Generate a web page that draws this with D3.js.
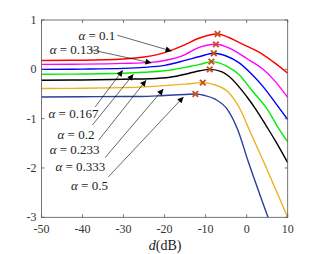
<!DOCTYPE html>
<html><head><meta charset="utf-8">
<script src="https://cdn.jsdelivr.net/npm/d3@7"></script>
<style>body{margin:0;background:#fff}</style>
</head><body>
<svg id="c" width="319" height="254"></svg>
<script>
const alphas = ["0.1","0.133","0.167","0.2","0.233","0.333","0.5"];
const colors = ["#ff0000","#ff00ff","#0000ff","#00ee00","#000000","#EDB120","#2a3fa0"];
const xTicks = [-50,-40,-30,-20,-10,0,10];
const yTicks = [1,0,-1,-2,-3];
const s01  = [[-50,0.18],[-40,0.185],[-30,0.21],[-25,0.25],[-20,0.34],[-15,0.5],[-12,0.62],[-7.1,0.716],[-4.5,0.65],[-2,0.55],[0,0.47],[3.6,0.32],[7,0.12],[10,-0.08]];
const s0133= [[-50,0.10],[-40,0.105],[-30,0.12],[-23.6,0.14],[-20,0.18],[-15,0.3],[-12,0.43],[-7.5,0.507],[-4.5,0.44],[-2,0.33],[0,0.22],[4,0.0],[7,-0.25],[10,-0.57]];
const s0167= [[-50,0.0],[-40,0.005],[-30,0.02],[-25,0.04],[-20,0.08],[-15,0.18],[-11.4,0.26],[-8,0.325],[-5,0.27],[-2,0.14],[1,-0.08],[4,-0.35],[7,-0.68],[10,-1.02]];
const s02  = [[-50,-0.1],[-40,-0.095],[-30,-0.08],[-25,-0.06],[-20,-0.03],[-15,0.04],[-11.4,0.1],[-8.6,0.156],[-5,0.07],[-1.7,-0.12],[1,-0.4],[5.2,-0.83],[7.6,-1.17],[10,-1.47]];
const s0233= [[-50,-0.22],[-40,-0.215],[-30,-0.2],[-23.6,-0.19],[-18.7,-0.16],[-14,-0.08],[-11.4,-0.03],[-9,0.0],[-6,-0.05],[-4.2,-0.15],[0,-0.55],[2.4,-0.83],[4.8,-1.15],[7,-1.45],[10,-1.89]];
const s0333= [[-50,-0.39],[-40,-0.385],[-30,-0.37],[-26,-0.36],[-20,-0.33],[-15,-0.3],[-10.7,-0.27],[-8,-0.31],[-4.5,-0.46],[-1.46,-0.83],[0.7,-1.24],[4,-1.85],[7,-2.42],[10,-3.0]];
const s05  = [[-50,-0.56],[-40,-0.555],[-30,-0.55],[-26,-0.55],[-20,-0.53],[-15,-0.51],[-12.5,-0.5],[-10.2,-0.53],[-7.8,-0.6],[-4.55,-0.83],[-2.1,-1.24],[0.3,-1.85],[5.2,-3.0],[6,-3.19]];
const series = [s01,s0133,s0167,s02,s0233,s0333,s05];
const peaks = [[-7.1,0.716],[-7.5,0.507],[-8,0.325],[-8.6,0.156],[-9,0.0],[-10.7,-0.27],[-12.5,-0.5]];
// label anchor (data coords of text start) and arrow tips (data coords)
const labelPos = [[-41.0,0.69],[-48.0,0.405],[-48.3,-0.9],[-46.1,-1.33],[-48.0,-1.63],[-46.6,-1.96],[-42.8,-2.35]];
const arrowStart = [[-31.5,0.69],[-38.4,0.405],[-36.9,-0.76],[-37.6,-1.13],[-36.1,-1.44],[-34.5,-1.79],[-33.7,-2.18]];
const arrowTip = [[-18.3,0.37],[-23.2,0.13],[-30.2,-0.02],[-27.6,-0.1],[-24.5,-0.22],[-20.3,-0.4],[-15.4,-0.56]];

const svg = d3.select("#c");
const x = d3.scaleLinear().domain([-50,10]).range([41.5,287.7]);
const y = d3.scaleLinear().domain([-3,1]).range([217.3,20]);

svg.append("defs").append("clipPath").attr("id","clip").append("rect")
  .attr("x",x(-50)).attr("y",y(1)).attr("width",x(10)-x(-50)).attr("height",y(-3)-y(1));
svg.select("defs").append("marker").attr("id","ah").attr("viewBox","0 0 10 10")
  .attr("refX",10).attr("refY",5).attr("markerWidth",8).attr("markerHeight",6)
  .attr("markerUnits","userSpaceOnUse").attr("orient","auto")
  .append("path").attr("d","M0,0L10,5L0,10Z").attr("fill","#000");

const line = d3.line().x(d=>x(d[0])).y(d=>y(d[1])).curve(d3.curveMonotoneX);
const g = svg.append("g").attr("clip-path","url(#clip)");
series.forEach((s,i)=>{
  g.append("path").attr("d",line(s)).attr("fill","none").attr("stroke",colors[i]).attr("stroke-width",1.4);
});
peaks.forEach(p=>{
  const px=x(p[0]), py=y(p[1]), r=2.8;
  svg.append("path").attr("d",`M${px-r},${py-r}L${px+r},${py+r}M${px-r},${py+r}L${px+r},${py-r}`)
    .attr("stroke","#c4501c").attr("stroke-width",1.8).attr("fill","none");
});

// axes box
const axc = "#555";
svg.append("rect").attr("x",x(-50)).attr("y",y(1)).attr("width",x(10)-x(-50)).attr("height",y(-3)-y(1))
  .attr("fill","none").attr("stroke",axc).attr("stroke-width",0.8);
const ax = svg.append("g");
xTicks.forEach(t=>{
  ax.append("line").attr("x1",x(t)).attr("x2",x(t)).attr("y1",y(-3)).attr("y2",y(-3)-3).attr("stroke",axc).attr("stroke-width",0.8);
  ax.append("line").attr("x1",x(t)).attr("x2",x(t)).attr("y1",y(1)).attr("y2",y(1)+3).attr("stroke",axc).attr("stroke-width",0.8);
  ax.append("text").attr("x",x(t)).attr("y",y(-3)+16).attr("text-anchor","middle")
    .attr("font-family","Liberation Serif, serif").attr("font-size",12).attr("fill","#333").text(t);
});
yTicks.forEach(t=>{
  ax.append("line").attr("x1",x(-50)).attr("x2",x(-50)+3).attr("y1",y(t)).attr("y2",y(t)).attr("stroke",axc).attr("stroke-width",0.8);
  ax.append("line").attr("x1",x(10)).attr("x2",x(10)-3).attr("y1",y(t)).attr("y2",y(t)).attr("stroke",axc).attr("stroke-width",0.8);
  ax.append("text").attr("x",x(-50)-5).attr("y",y(t)+4).attr("text-anchor","end")
    .attr("font-family","Liberation Serif, serif").attr("font-size",12).attr("fill","#333").text(t);
});
const xl = svg.append("text").attr("x",(x(-50)+x(10))/2+0.5).attr("y",250).attr("text-anchor","middle")
  .attr("font-family","Liberation Serif, serif").attr("font-size",14).attr("fill","#222");
xl.append("tspan").attr("font-style","italic").text("d");
xl.append("tspan").text("(dB)");

// annotations
alphas.forEach((a,i)=>{
  svg.append("line").attr("x1",x(arrowStart[i][0])).attr("y1",y(arrowStart[i][1]))
    .attr("x2",x(arrowTip[i][0])).attr("y2",y(arrowTip[i][1]))
    .attr("stroke","#000").attr("stroke-width",0.6).attr("marker-end","url(#ah)");
  const t = svg.append("text").attr("x",x(labelPos[i][0])).attr("y",y(labelPos[i][1])+4.5)
    .attr("font-family","Liberation Serif, serif").attr("font-size",13).attr("fill","#222");
  t.append("tspan").attr("font-style","italic").text("α");
  t.append("tspan").text(" = "+a);
});
</script>
</body></html>
